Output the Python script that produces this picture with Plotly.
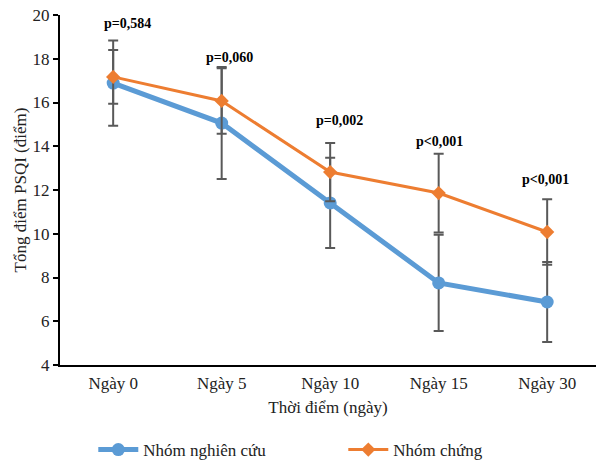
import plotly.graph_objects as go

categories = ["Ngày 0", "Ngày 5", "Ngày 10", "Ngày 15", "Ngày 30"]
study_mean = [16.89, 15.06, 11.41, 7.75, 6.88]
study_sd = [1.95, 2.56, 2.06, 2.20, 1.83]
control_mean = [17.17, 16.07, 12.82, 11.86, 10.08]
control_sd = [1.23, 1.50, 1.33, 1.80, 1.50]
p_labels = ["p=0,584", "p=0,060", "p=0,002", "p<0,001", "p<0,001"]
p_label_y = [19.63, 18.08, 15.20, 14.24, 12.46]
p_label_xshift = [14, 8, 9, 1, -2]

FONT = "Liberation Serif, Times New Roman, serif"
ERR = "#595959"
TXT = "#222"

fig = go.Figure()
fig.add_trace(go.Scatter(
    x=categories, y=study_mean, name="Nhóm nghiên cứu", mode="lines+markers",
    line=dict(color="#5B9BD5", width=5),
    marker=dict(symbol="circle", size=13, color="#5B9BD5"),
    error_y=dict(type="data", array=study_sd, visible=True, color=ERR, thickness=2, width=5),
))
fig.add_trace(go.Scatter(
    x=categories, y=control_mean, name="Nhóm chứng", mode="lines+markers",
    line=dict(color="#ED7D31", width=3),
    marker=dict(symbol="diamond", size=11, color="#ED7D31"),
    error_y=dict(type="data", array=control_sd, visible=True, color=ERR, thickness=2, width=5),
))

for c, t, y, xs in zip(categories, p_labels, p_label_y, p_label_xshift):
    fig.add_annotation(x=c, y=y, text=f"<b>{t}</b>", showarrow=False, xshift=xs,
                       font=dict(family=FONT, size=14, color="black"))

fig.update_layout(
    width=596, height=460,
    margin=dict(l=60, r=0, t=15, b=95, autoexpand=False),
    paper_bgcolor="white", plot_bgcolor="white",
    font=dict(family=FONT, size=17, color=TXT),
    showlegend=True,
    legend=dict(orientation="h", xref="container", x=0.576, xanchor="center",
                y=-0.243, yanchor="middle", entrywidth=195, entrywidthmode="pixels",
                font=dict(family=FONT, size=17, color=TXT), itemwidth=40),
    xaxis=dict(
        type="category", range=[-0.49, 4.45], showgrid=False, showline=True,
        linecolor="black", linewidth=2, ticks="outside", ticklen=2,
        tickcolor="rgba(0,0,0,0)", automargin=False,
        title=dict(text="Thời điểm (ngày)", font=dict(family=FONT, size=17), standoff=9),
        tickfont=dict(family=FONT, size=17, color=TXT),
    ),
    yaxis=dict(
        range=[4, 20], dtick=2, showgrid=False, showline=True, zeroline=False,
        linecolor="black", linewidth=2, ticks="outside", ticklen=5, tickcolor="black",
        tickwidth=1.5, automargin=False,
        title=dict(text="Tổng điểm PSQI (điểm)", font=dict(family=FONT, size=17), standoff=2),
        tickfont=dict(family=FONT, size=17, color=TXT),
    ),
)

fig.write_html("out.html", config={"displayModeBar": False},
               post_script="document.body.style.margin='0';document.body.style.overflow='hidden';")
